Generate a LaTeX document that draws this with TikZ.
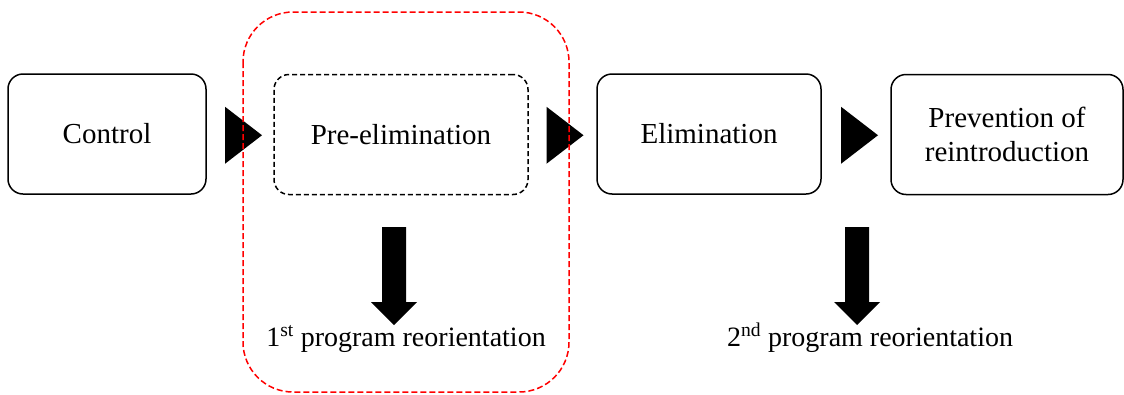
\documentclass[tikz,border=0pt]{standalone}
\usepackage{fontspec}
\setmainfont{Liberation Serif}
\usetikzlibrary{calc}
\begin{document}
\begin{tikzpicture}[x=1pt,y=-1pt,
  stage/.style={draw, line width=1.5pt, rounded corners=15pt, align=center,
    inner sep=0pt, minimum height=120pt, font=\fontsize{29}{34}\selectfont},
  tentative/.style={dash pattern=on 5pt off 3pt},
  phasefont/.style={font=\fontsize{28}{33}\selectfont},
  flowtip/.pic={\fill (-15,-28.5) -- (22,0) -- (-15,28.5) -- cycle;},
  shiftarrow/.pic={\fill (-12,0) -- (12,0) -- (12,75) -- (23,75) -- (0,98)
    -- (-23,75) -- (-12,75) -- cycle;}]
\useasboundingbox (0,0) rectangle (1124,394);

% stages of the programme
\node[stage, minimum width=198pt] (ctrl) at (107,134) {Control};
\node[stage, tentative, minimum width=254pt] (pre) at (401,134.5) {Pre-elimination};
\node[stage, minimum width=224pt] (elim) at (709,134) {Elimination};
\node[stage, minimum width=232pt] (prev) at (1007,134.5) {Prevention of\\reintroduction};

% transitions between stages
\pic at ($(ctrl.east)!0.5!(pre.west)+(0,1)$) {flowtip};
\pic at ($(pre.east)!0.5!(elim.west)+(-1,1)$) {flowtip};
\pic at ($(elim.east)!0.5!(prev.west)+(0,1)$) {flowtip};

% reorientation points
\coordinate (r1top) at (394,227);
\coordinate (r2top) at (857,227);
\pic at (r1top) {shiftarrow};
\pic at (r2top) {shiftarrow};
\node[phasefont, anchor=base, inner sep=0pt] (re1) at (406,346) {1\textsuperscript{st} program reorientation};
\node[phasefont, anchor=base, inner sep=0pt] (re2) at (870,346) {2\textsuperscript{nd} program reorientation};

% highlighted phase
\draw[red, line width=1.5pt, dash pattern=on 6pt off 3pt, rounded corners=50pt]
  (243,12) rectangle (569,392);
\end{tikzpicture}
\end{document}
